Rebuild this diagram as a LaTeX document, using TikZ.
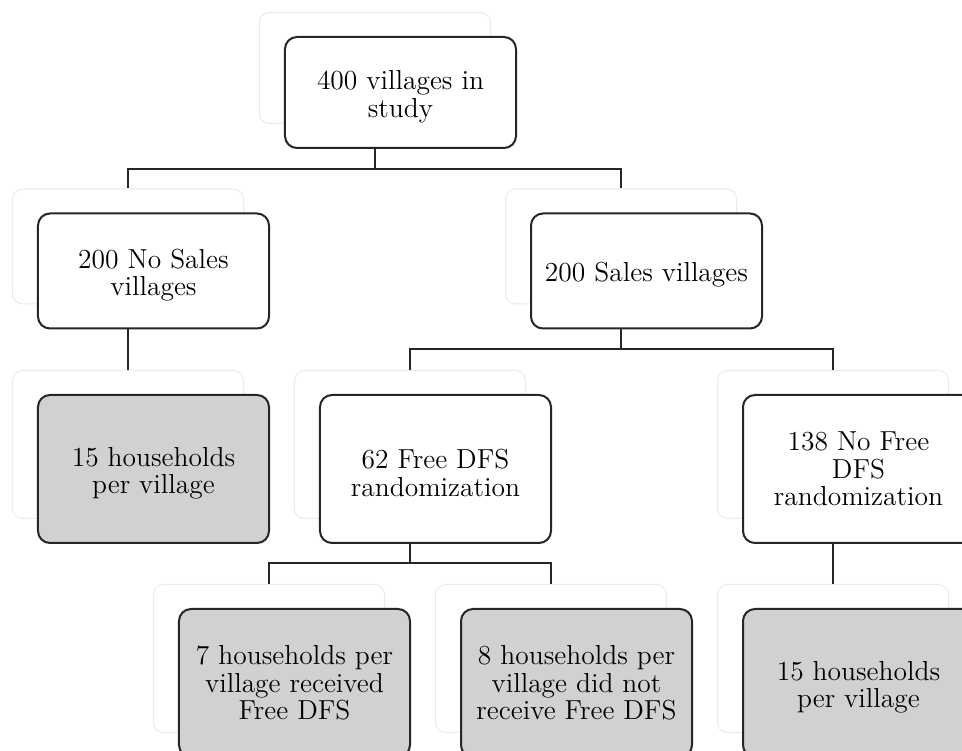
\documentclass[tikz,border=0pt]{standalone}
\newcommand{\lowstrut}{\rule{0pt}{11pt}}
\begin{document}
\begin{tikzpicture}[x=0.4pt,y=-0.4pt,
  mainbox/.style={draw=black!85, line width=0.8pt, rounded corners=4.8pt,
    minimum width=92.4pt, inner sep=0pt, align=center,
    font=\fontsize{11}{11}\selectfont, fill=white},
  shadebox/.style={draw=black!8, line width=0.4pt, rounded corners=4pt,
    minimum width=92.4pt, inner sep=0pt, fill=white},
  leafbox/.style={fill=black!18},
  lvlA/.style={minimum height=44.4pt},
  lvlB/.style={minimum height=46pt},
  lvlC/.style={minimum height=59.2pt},
  conn/.style={draw=black!85, line width=0.8pt}]
\path[use as bounding box, clip] (0,0) rectangle (962,751);
\fill[white] (0,0) rectangle (962,751);

% shadows
\node[shadebox,lvlA] (s0) at (375,68) {};
\node[shadebox,lvlB] (s1) at (128,246.5) {};
\node[shadebox,lvlB] (s2) at (621,246.5) {};
\node[shadebox,lvlC] (s3) at (128,444.5) {};
\node[shadebox,lvlC] (s4) at (410,444.5) {};
\node[shadebox,lvlC] (s5) at (833,444.5) {};
\node[shadebox,lvlC] (s6) at (269,658.5) {};
\node[shadebox,lvlC] (s7) at (551,658.5) {};
\node[shadebox,lvlC] (s8) at (833,658.5) {};

% main boxes
\node[mainbox,lvlA] (n0) at (400.5,92.5) {\lowstrut400 villages in\\study};
\node[mainbox,lvlB] (n1) at (153.5,271) {\lowstrut200 No Sales\\villages};
\node[mainbox,lvlB] (n2) at (646.5,271) {\lowstrut200 Sales villages};
\node[mainbox,lvlC,leafbox] (n3) at (153.5,469) {\lowstrut15 households\\per village};
\node[mainbox,lvlC] (n4) at (435.5,469) {\lowstrut62 Free DFS\\randomization};
\node[mainbox,lvlC] (n5) at (858.5,469) {138 No Free\\DFS\\randomization};
\node[mainbox,lvlC,leafbox] (n6) at (294.5,683) {7 households per\\village received\\Free DFS};
\node[mainbox,lvlC,leafbox] (n7) at (576.5,683) {8 households per\\village did not\\receive Free DFS};
\node[mainbox,lvlC,leafbox] (n8) at (858.5,683) {\lowstrut15 households\\per village};

% junction levels
\coordinate (y0) at (0,169);
\coordinate (y2) at (0,349);
\coordinate (y4) at (0,563);

% connectors
\draw[conn] (s0.center |- n0.south) -- (s0.center |- y0);
\draw[conn] (s1.north) -- (s1.north |- y0) -- (s2.north |- y0) -- (s2.north);

\draw[conn] (s1.center |- n1.south) -- (s3.north);

\draw[conn] (s2.center |- n2.south) -- (s2.center |- y2);
\draw[conn] (s4.north) -- (s4.north |- y2) -- (s5.north |- y2) -- (s5.north);

\draw[conn] (s4.center |- n4.south) -- (s4.center |- y4);
\draw[conn] (s6.north) -- (s6.north |- y4) -- (s7.north |- y4) -- (s7.north);

\draw[conn] (s5.center |- n5.south) -- (s8.north);
\end{tikzpicture}
\end{document}
